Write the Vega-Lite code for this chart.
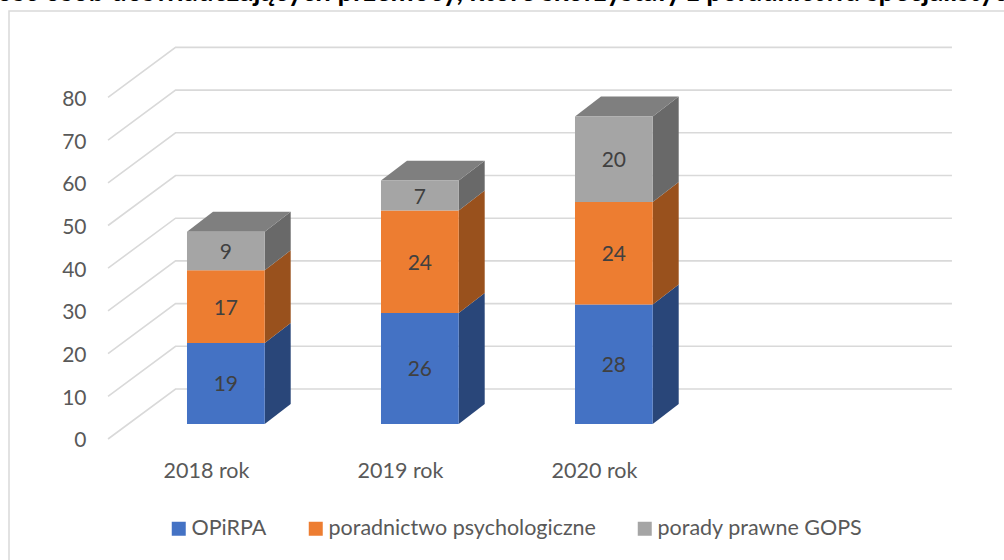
{
  "$schema": "https://vega.github.io/schema/vega-lite/v6.json",
  "autosize": "none",
  "padding": {"left": 9, "top": 11, "right": 0, "bottom": 0},
  "width": 1100,
  "height": 600,
  "view": {"stroke": "#d9d9d9", "strokeWidth": 1.5, "fill": null},
  "background": "white",
  "title": {
    "text": "Ilość osób doświadczających przemocy, które skorzystały z poradnictwa specjalistycznego",
    "anchor": "start",
    "frame": "group",
    "font": "Lato",
    "fontWeight": "bold",
    "fontSize": 27.6,
    "color": "#000000",
    "offset": 4,
    "dx": -27
  },
  "datasets": {
    "bars": [
      {"year": 2018, "series": "OPiRPA", "value": 19},
      {"year": 2018, "series": "poradnictwo psychologiczne", "value": 17},
      {"year": 2018, "series": "porady prawne GOPS", "value": 9},
      {"year": 2019, "series": "OPiRPA", "value": 26},
      {"year": 2019, "series": "poradnictwo psychologiczne", "value": 24},
      {"year": 2019, "series": "porady prawne GOPS", "value": 7},
      {"year": 2020, "series": "OPiRPA", "value": 28},
      {"year": 2020, "series": "poradnictwo psychologiczne", "value": 24},
      {"year": 2020, "series": "porady prawne GOPS", "value": 20}
    ],
    "ticks": [{"tick": 0}, {"tick": 10}, {"tick": 20}, {"tick": 30}, {"tick": 40}, {"tick": 50}, {"tick": 60}, {"tick": 70}, {"tick": 80}]
  },
  "data": {"name": "bars"},
  "transform": [
    {"stack": "value", "groupby": ["year"], "sort": [{"field": "series", "order": "ascending"}], "as": ["v0", "v1"]},
    {"calculate": "datum.year - 0.098", "as": "xL"},
    {"calculate": "datum.year + 0.3026", "as": "xR"},
    {"calculate": "datum.v0 + 3.51", "as": "lo"},
    {"calculate": "datum.v1 + 3.51", "as": "hi"},
    {"calculate": "(datum.lo + datum.hi) / 2", "as": "mid"},
    {"calculate": "(datum.xL + datum.xR) / 2", "as": "xMid"},
    {"calculate": "[0, 1]", "as": "t"},
    {"flatten": ["t"]},
    {"calculate": "datum.xR + datum.t * 0.134", "as": "sideX"},
    {"calculate": "datum.lo + datum.t * 4.68", "as": "sideLo"},
    {"calculate": "datum.hi + datum.t * 4.68", "as": "sideHi"},
    {"calculate": "datum.xL + datum.t * 0.134", "as": "topL"}
  ],
  "layer": [
    {
      "data": {"name": "ticks"},
      "transform": [
        {"calculate": "[0, 1, 2]", "as": "p"},
        {"flatten": ["p"]},
        {"calculate": "datum.p == 0 ? 2017.495 : datum.p == 1 ? 2017.843 : 2021.845", "as": "gx"},
        {"calculate": "datum.p == 0 ? datum.tick : datum.tick + 11.71", "as": "gy"}
      ],
      "mark": {"type": "line", "stroke": "#d9d9d9", "strokeWidth": 1.6, "interpolate": "linear"},
      "encoding": {
        "x": {
          "field": "gx", "type": "quantitative",
          "scale": {"domain": [2016.9845, 2022.6546], "nice": false, "zero": false},
          "axis": {"values": [2018, 2019, 2020], "labelExpr": "datum.value + ' rok'", "title": null, "grid": false, "domain": false, "ticks": false, "orient": "bottom", "offset": -151, "labelPadding": 0, "labelFont": "Lato", "labelFontSize": 21.5, "labelColor": "#595959", "labelBaseline": "top", "labelFlush": false, "labelOverlap": false}
        },
        "y": {
          "field": "gy", "type": "quantitative",
          "scale": {"domain": [-40.28, 100.23], "nice": false, "zero": false},
          "axis": {"values": [0, 10, 20, 30, 40, 50, 60, 70, 80], "title": null, "grid": false, "domain": false, "ticks": false, "offset": -77, "labelPadding": 0, "labelOffset": 2, "labelFont": "Lato", "labelFontSize": 21, "labelColor": "#595959"}
        },
        "detail": {"field": "tick"},
        "order": {"field": "p"}
      }
    },
    {
      "mark": {"type": "area", "orient": "vertical", "opacity": 1},
      "encoding": {
        "x": {"field": "sideX", "type": "quantitative"},
        "y": {"field": "sideLo", "type": "quantitative", "stack": null},
        "y2": {"field": "sideHi"},
        "detail": {"field": "year"},
        "fill": {
          "field": "series", "type": "nominal", "legend": null,
          "scale": {"domain": ["OPiRPA", "poradnictwo psychologiczne", "porady prawne GOPS"], "range": ["#294679", "#99511d", "#696969"]}
        }
      }
    },
    {
      "transform": [{"filter": "datum.series == 'porady prawne GOPS'"}],
      "mark": {"type": "area", "orient": "horizontal", "fill": "#7f7f7f"},
      "encoding": {
        "y": {"field": "sideHi", "type": "quantitative", "stack": null},
        "x": {"field": "topL", "type": "quantitative", "stack": null},
        "x2": {"field": "sideX"},
        "detail": {"field": "year"}
      }
    },
    {
      "transform": [{"filter": "datum.t == 0"}],
      "mark": {"type": "rect"},
      "encoding": {
        "x": {"field": "xL", "type": "quantitative"},
        "x2": {"field": "xR"},
        "y": {"field": "lo", "type": "quantitative", "stack": null},
        "y2": {"field": "hi"},
        "color": {
          "field": "series", "type": "nominal", "title": null,
          "scale": {"domain": ["OPiRPA", "poradnictwo psychologiczne", "porady prawne GOPS"], "range": ["#4472c4", "#ed7d31", "#a5a5a5"]},
          "legend": {"orient": "none", "legendX": 159, "legendY": 507, "direction": "horizontal", "columns": 3, "gridAlign": "none", "symbolType": "square", "symbolSize": 196, "symbolStrokeWidth": 0, "symbolOpacity": 1, "labelFont": "Lato", "labelFontSize": 21.5, "labelColor": "#595959", "labelOffset": 2, "columnPadding": 38, "padding": 0, "labelLimit": 400}
        }
      }
    },
    {
      "transform": [{"filter": "datum.t == 0"}],
      "mark": {"type": "text", "font": "Lato", "fontSize": 21, "color": "#404040", "align": "center", "baseline": "middle", "dy": 2},
      "encoding": {
        "x": {"field": "xMid", "type": "quantitative"},
        "y": {"field": "mid", "type": "quantitative"},
        "text": {"field": "value", "type": "quantitative"}
      }
    }
  ],
  "resolve": {"scale": {"fill": "independent"}}
}
